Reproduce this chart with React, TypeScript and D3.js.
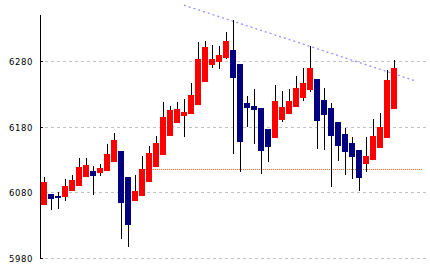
import React from "react";
import * as d3 from "d3";

const opens = [6061,6078,6074,6073,6082,6090,6103,6113,6109,6113,6126,6143,6103,6067,6074,6096,6119,6137,6166,6186,6196,6199,6213,6248,6274,6278,6285,6297,6275,6216,6212,6208,6176,6163,6190,6199,6210,6224,6236,6253,6221,6208,6187,6169,6155,6145,6123,6129,6148,6163,6207];
const highs = [6103,6078,6081,6100,6106,6132,6132,6120,6123,6154,6170,6143,6103,6106,6135,6151,6166,6218,6212,6218,6222,6247,6309,6310,6304,6303,6324,6342,6275,6227,6237,6208,6176,6244,6234,6237,6257,6269,6303,6253,6239,6216,6187,6178,6164,6145,6164,6192,6201,6266,6282];
const lows = [6061,6053,6055,6067,6082,6090,6103,6076,6105,6113,6126,6009,5997,6067,6074,6096,6119,6137,6166,6186,6164,6199,6213,6248,6269,6268,6283,6138,6111,6180,6154,6108,6126,6163,6187,6199,6210,6219,6233,6146,6145,6088,6128,6106,6100,6082,6111,6129,6148,6163,6207];
const closes = [6096,6070,6071,6090,6099,6119,6122,6105,6117,6138,6160,6064,6030,6082,6116,6140,6155,6195,6205,6207,6202,6228,6283,6301,6283,6289,6310,6254,6157,6208,6205,6143,6149,6219,6210,6219,6239,6247,6269,6189,6198,6166,6151,6141,6134,6102,6135,6166,6180,6251,6269];
const yTicks = [6280, 6180, 6080, 5980];
const resistanceLine = [{ i: 20, v: 6365 }, { i: 53.1, v: 6249.5 }];
const supportLine = [{ i: 13.55, v: 6115.5 }, { i: 54, v: 6115.5 }];

export default function App() {
  const x = d3.scaleLinear().domain([0, closes.length - 1]).range([44, 394]);
  const y = d3.scaleLinear().domain([5980, 6350]).range([258, 15]);
  const ry = (v: number) => Math.round(y(v));
  const line = d3.line<{ i: number; v: number }>().x(d => x(d.i)).y(d => y(d.v));
  const sline = d3.line<{ i: number; v: number }>().x(d => x(d.i)).y(d => ry(d.v) + 0.5);

  return (
    <svg width={430} height={272} style={{ position: "absolute", left: 0, top: 0, display: "block", background: "#fff" }}>
      {yTicks.map(t => (
        <g key={t}>
          <line x1={45} x2={426} y1={ry(t) + 0.5} y2={ry(t) + 0.5} stroke="#c0c0c0" strokeDasharray="3,3" />
          <line x1={40} x2={43} y1={ry(t) + 0.5} y2={ry(t) + 0.5} stroke="#000" />
          <text x={33} y={ry(t) + 0.5} textAnchor="end" dominantBaseline="central" fontFamily="DejaVu Sans" fontSize={8.5} letterSpacing={0.6} fill="#000">{t}</text>
        </g>
      ))}
      <line x1={40.5} x2={40.5} y1={15} y2={259} stroke="#000" />
      <path d={sline(supportLine) || ""} stroke="#d2691e" strokeDasharray="1,1" fill="none" />
      <path d={line(resistanceLine) || ""} stroke="#8a8aff" strokeWidth={1.2} strokeDasharray="2,3" fill="none" />
      {closes.map((c, i) => {
        const cx = Math.round(x(i));
        const top = ry(Math.max(opens[i], c));
        const bot = ry(Math.min(opens[i], c));
        const up = c >= opens[i];
        return (
          <g key={i}>
            <line x1={cx + 0.5} x2={cx + 0.5} y1={ry(highs[i])} y2={ry(lows[i])} stroke="#000" />
            <rect x={cx - 3} y={top} width={6} height={Math.max(1, bot - top)} fill={up ? "#ff0000" : "#000080"} />
          </g>
        );
      })}
    </svg>
  );
}
